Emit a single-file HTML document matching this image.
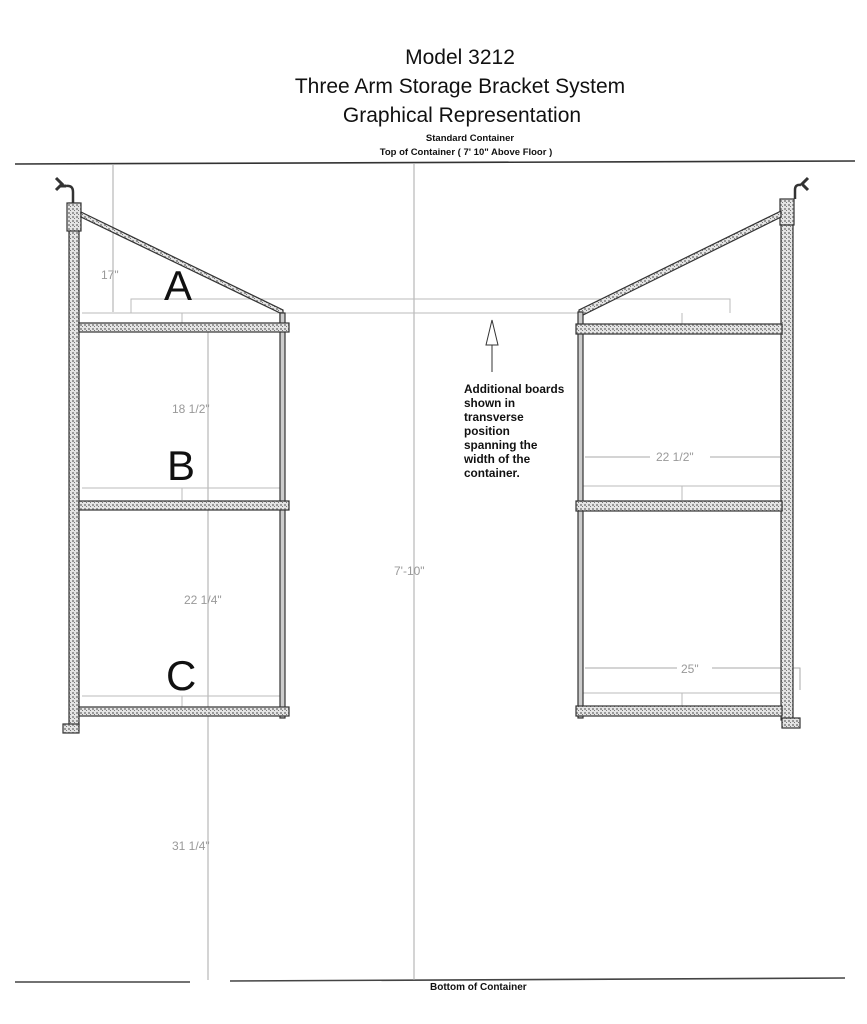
<!DOCTYPE html>
<html><head><meta charset="utf-8"><style>
html,body{margin:0;padding:0;background:#fff;}
svg{display:block;font-family:"Liberation Sans",Arial,sans-serif;}
</style></head><body>
<svg width="867" height="1024" viewBox="0 0 867 1024" xmlns="http://www.w3.org/2000/svg">
<defs>
<pattern id="dots" width="4" height="4" patternUnits="userSpaceOnUse">
<rect width="4" height="4" fill="#e4e4e4"/><rect x="0" y="0" width="2" height="2" fill="#999"/><rect x="2" y="2" width="1" height="1" fill="#777"/>
</pattern>
</defs>
<g fill="#111" text-anchor="middle">
<text x="460" y="64" font-size="21">Model 3212</text>
<text x="460" y="93" font-size="21">Three Arm Storage Bracket System</text>
<text x="462" y="122" font-size="21">Graphical Representation</text>
<text x="470" y="141" font-size="9.5" font-weight="bold">Standard Container</text>
<text x="466" y="155" font-size="9.5" font-weight="bold">Top of Container ( 7' 10" Above Floor )</text>
</g>
<line x1="15" y1="164" x2="855" y2="161" stroke="#333" stroke-width="1.6"/>
<line x1="15" y1="982" x2="190" y2="982" stroke="#444" stroke-width="1.6"/>
<line x1="230" y1="981" x2="845" y2="978" stroke="#444" stroke-width="1.6"/>
<text x="430" y="990" font-size="10" font-weight="bold" fill="#111">Bottom of Container</text>
<g stroke="#aaa" stroke-width="1">
<line x1="113" y1="164" x2="113" y2="312"/>
<line x1="208" y1="330" x2="208" y2="980"/>
<line x1="414" y1="164" x2="414" y2="980"/>
</g>
<g stroke="#bbb" stroke-width="1">
<line x1="82" y1="313" x2="580" y2="313"/>
<polyline points="131,313 131,299 730,299 730,313" fill="none"/>
<line x1="82" y1="488" x2="282" y2="488"/>
<line x1="182" y1="488" x2="182" y2="500"/>
<line x1="82" y1="696" x2="282" y2="696"/>
<line x1="182" y1="696" x2="182" y2="707"/>
<line x1="182" y1="313" x2="182" y2="324"/>
<line x1="682" y1="313" x2="682" y2="324"/>
<line x1="583" y1="486" x2="780" y2="486"/>
<line x1="682" y1="486" x2="682" y2="500"/>
<line x1="583" y1="693" x2="780" y2="693"/>
<line x1="682" y1="693" x2="682" y2="706"/>
</g>
<g stroke="#aaa" stroke-width="1">
<line x1="585" y1="457" x2="650" y2="457"/>
<line x1="710" y1="457" x2="780" y2="457"/>
<line x1="585" y1="668" x2="677" y2="668"/>
<line x1="712" y1="668" x2="780" y2="668"/>
<polyline points="780,668 800,668 800,690" fill="none"/>
</g>
<g fill="#999" font-size="12">
<text x="101" y="279">17"</text>
<text x="172" y="413">18 1/2"</text>
<text x="184" y="604">22 1/4"</text>
<text x="394" y="575">7'-10"</text>
<text x="172" y="850">31 1/4"</text>
<text x="656" y="461">22 1/2"</text>
<text x="681" y="673">25"</text>
</g>
<g fill="#111" font-size="42">
<text x="164" y="300">A</text>
<text x="167" y="480">B</text>
<text x="166" y="690">C</text>
</g>
<g stroke="#333" stroke-width="1.2">
<rect x="69" y="203" width="10" height="522" fill="url(#dots)"/>
<rect x="67" y="203" width="14" height="28" fill="url(#dots)"/>
<polygon points="81,212 283,310 283,330 280,330 280,313 81,217" fill="url(#dots)"/>
<rect x="280" y="313" width="5" height="405" fill="#ccc"/>
<rect x="79" y="323" width="210" height="9" fill="url(#dots)"/>
<rect x="79" y="501" width="210" height="9" fill="url(#dots)"/>
<rect x="79" y="707" width="210" height="9" fill="url(#dots)"/>
<rect x="63" y="724" width="16" height="9" fill="url(#dots)"/>
<path d="M73,203 V192 Q73,185 66,186" fill="none" stroke-width="2.5"/>
</g>
<path d="M56,178 L62,184 L56,190 M60,186 h6" stroke="#333" stroke-width="3" fill="none"/>
<g stroke="#333" stroke-width="1.2">
<rect x="781" y="205" width="12" height="515" fill="url(#dots)"/>
<rect x="780" y="199" width="14" height="26" fill="url(#dots)"/>
<polygon points="781,211 579,310 579,315 583,315 781,217" fill="url(#dots)"/>
<rect x="578" y="312" width="5" height="406" fill="#ccc"/>
<rect x="576" y="324" width="206" height="10" fill="url(#dots)"/>
<rect x="576" y="501" width="206" height="10" fill="url(#dots)"/>
<rect x="576" y="706" width="206" height="10" fill="url(#dots)"/>
<rect x="782" y="718" width="18" height="10" fill="url(#dots)"/>
<path d="M795,199 V190 Q795,184 801,185" fill="none" stroke-width="2.5"/>
</g>
<path d="M808,178 L802,184 L808,190" stroke="#333" stroke-width="3" fill="none"/>
<line x1="492" y1="345" x2="492" y2="372" stroke="#333" stroke-width="1"/>
<polygon points="492,320 486,345 498,345" fill="#fff" stroke="#333" stroke-width="1"/>
<g fill="#111" font-size="11.8" font-weight="bold">
<text x="464" y="393">Additional boards</text>
<text x="464" y="407">shown in</text>
<text x="464" y="421">transverse</text>
<text x="464" y="435">position</text>
<text x="464" y="459" dy="-10">spanning the</text>
<text x="464" y="463">width of the</text>
<text x="464" y="477">container.</text>
</g>
</svg>
</body></html>
